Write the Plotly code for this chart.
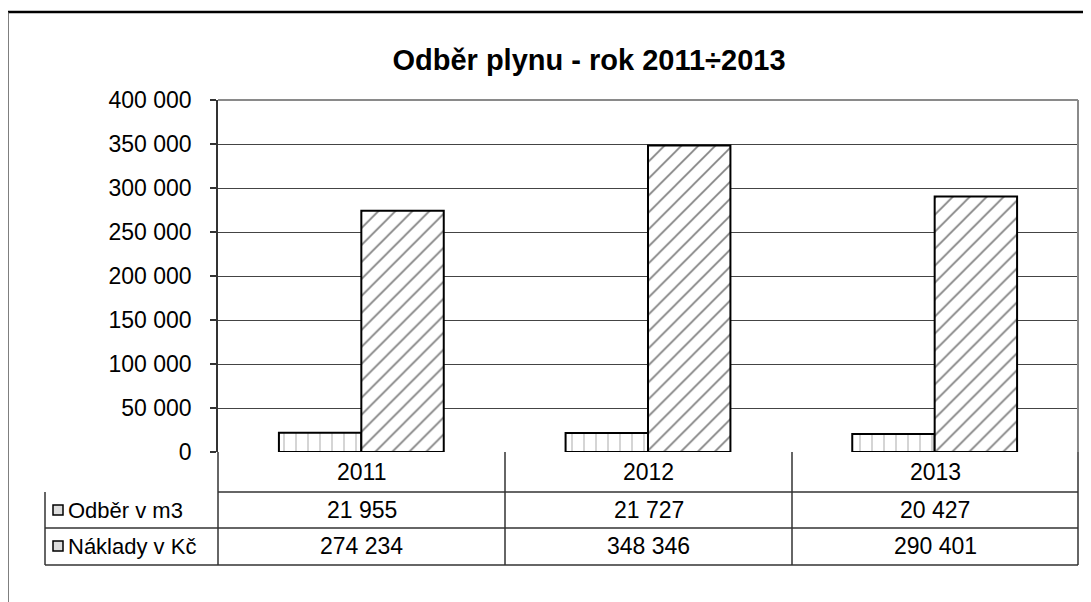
import plotly.graph_objects as go

# data
years = ["2011", "2012", "2013"]
odber_m3 = [21955, 21727, 20427]
naklady_kc = [274234, 348346, 290401]
series_names = ["Odběr v m3", "Náklady v Kč"]
title = "Odběr plynu - rok 2011÷2013"

# page body has an 8px margin, so the figure is shifted by OFF on screen
OFF = 8
W, H = 1091 - OFF, 602 - OFF
# plot area in screen pixels
PL, PR, PT, PB = 218, 1078, 100, 452

def px_x(x):
    return (x - PL) / (PR - PL)

def px_y(y):
    return (PB - y) / (PB - PT)

def fmt(v):
    return f"{v:,}".replace(",", "\u00a0")

FONT = "Liberation Sans, Arial, sans-serif"
FS = 23

fig = go.Figure()
fig.add_trace(go.Bar(
    x=years, y=odber_m3, name=series_names[0],
    marker=dict(color="white", line=dict(color="black", width=2),
                pattern=dict(shape="|", fgcolor="#8a8a8a", bgcolor="white", size=12, solidity=0.12)),
))
fig.add_trace(go.Bar(
    x=years, y=naklady_kc, name=series_names[1],
    marker=dict(color="white", line=dict(color="black", width=2),
                pattern=dict(shape="/", fgcolor="black", bgcolor="white", size=12, solidity=0.14)),
))

shapes = []
line_dark = dict(color="#333333", width=1.5)

# outer frame
shapes.append(dict(type="line", xref="paper", yref="paper", x0=px_x(8), x1=px_x(1100),
                   y0=px_y(12), y1=px_y(12), line=dict(color="black", width=2.5)))
shapes.append(dict(type="line", xref="paper", yref="paper", x0=px_x(8), x1=px_x(8),
                   y0=px_y(12), y1=px_y(610), line=dict(color="#555555", width=1.5)))

# plot border top/right
shapes.append(dict(type="line", xref="paper", yref="paper", x0=0, x1=1, y0=1, y1=1,
                   line=dict(color="#8a8a8a", width=2)))
shapes.append(dict(type="line", xref="paper", yref="paper", x0=1, x1=1, y0=0, y1=1,
                   line=dict(color="#8a8a8a", width=2)))

# data table
row_lines = [492, 528, 565]
col_lines = [PL, 505, 792, PR]
for i, yy in enumerate(row_lines):
    x_start = PL if i == 0 else 45
    shapes.append(dict(type="line", xref="paper", yref="paper", x0=px_x(x_start), x1=px_x(PR),
                       y0=px_y(yy), y1=px_y(yy), line=line_dark))
for xx in col_lines:
    shapes.append(dict(type="line", xref="paper", yref="paper", x0=px_x(xx), x1=px_x(xx),
                       y0=px_y(PB), y1=px_y(565), line=line_dark))
shapes.append(dict(type="line", xref="paper", yref="paper", x0=px_x(45), x1=px_x(45),
                   y0=px_y(492), y1=px_y(565), line=line_dark))

annotations = []
cell_rows = [(odber_m3, 510), (naklady_kc, 546)]
for j, yr in enumerate(years):
    cx = (col_lines[j] + col_lines[j + 1]) / 2
    annotations.append(dict(x=px_x(cx), y=px_y(472), xref="paper", yref="paper", text=yr,
                            xanchor="center", yanchor="middle", showarrow=False,
                            font=dict(size=FS, color="black", family=FONT)))
    for vals, cy in cell_rows:
        annotations.append(dict(x=px_x(cx), y=px_y(cy), xref="paper", yref="paper", text=fmt(vals[j]),
                                xanchor="center", yanchor="middle", showarrow=False,
                                font=dict(size=FS, color="black", family=FONT)))

# legend keys + series labels
for name, (_, cy) in zip(series_names, cell_rows):
    shapes.append(dict(type="rect", xref="paper", yref="paper", x0=px_x(53), x1=px_x(63),
                       y0=px_y(cy - 5), y1=px_y(cy + 5), fillcolor="#dddddd",
                       line=dict(color="black", width=1.5)))
    annotations.append(dict(x=px_x(66), y=px_y(cy), xref="paper", yref="paper", text=name,
                            xanchor="left", yanchor="middle", showarrow=False,
                            font=dict(size=22, color="black", family=FONT)))

fig.update_layout(
    width=W, height=H,
    margin=dict(l=PL - OFF, r=W - (PR - OFF), t=PT - OFF, b=H - (PB - OFF), pad=0),
    paper_bgcolor="white", plot_bgcolor="white",
    barmode="group", bargap=0.425, bargroupgap=0,
    showlegend=False,
    separators=",\u00a0",
    font=dict(family=FONT, color="black"),
    title=dict(text="<b>" + title + "</b>", x=px_x(589), xref="paper", xanchor="center",
               y=1 - (60 - OFF) / H, yanchor="middle", font=dict(size=29, color="black", family=FONT)),
    shapes=shapes,
    annotations=annotations,
)
fig.update_xaxes(showticklabels=False, showgrid=False, ticks="", showline=False)
fig.update_yaxes(range=[0, 400000], dtick=50000, tickformat=",d",
                 showgrid=True, gridcolor="#444444", gridwidth=1,
                 showline=True, linecolor="#333333", linewidth=1.5,
                 ticks="outside", ticklen=6, tickcolor="#333333", tickwidth=1.5,
                 ticklabelstandoff=14, zeroline=False,
                 tickfont=dict(size=FS, color="black", family=FONT))

fig.write_html("out.html")
